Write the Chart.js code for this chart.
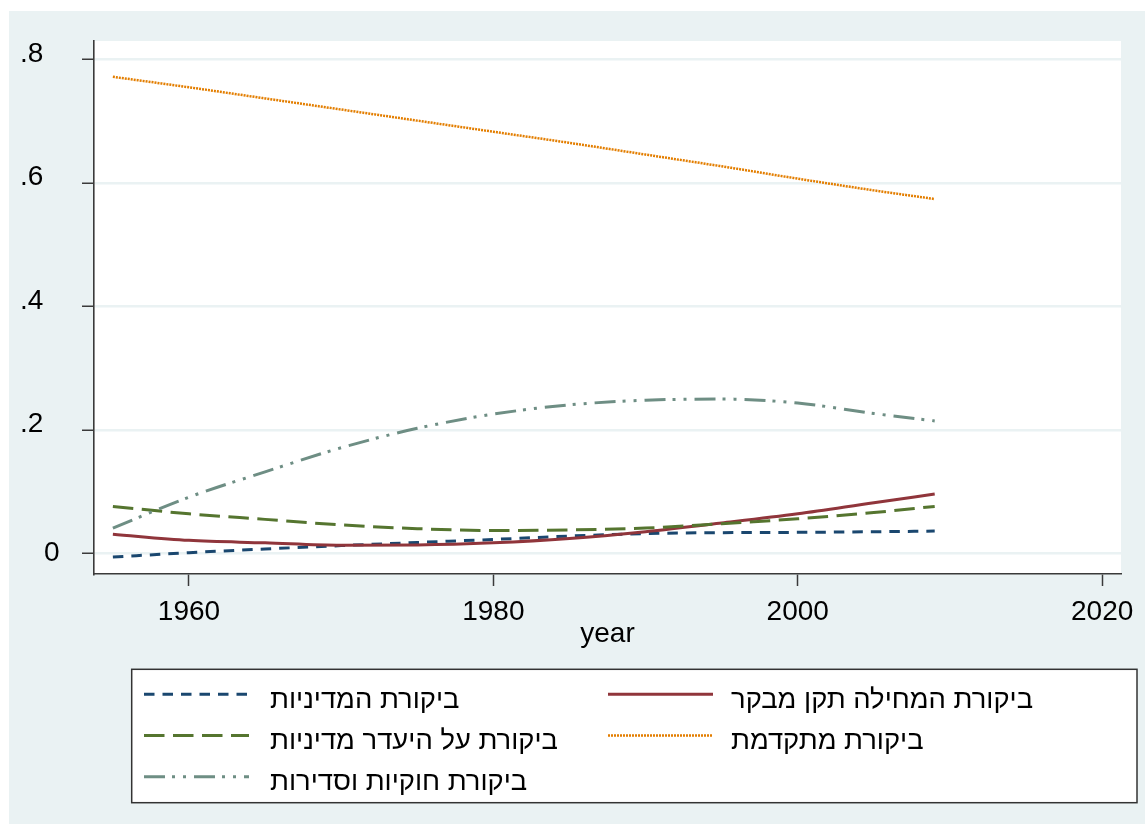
<!DOCTYPE html>
<html>
<head>
<meta charset="utf-8">
<script src="https://cdn.jsdelivr.net/npm/chart.js@4/dist/chart.umd.min.js"></script>
<style>
html, body { margin: 0; padding: 0; background: #ffffff; }
#wrap { width: 1145px; height: 835px; }
canvas { display: block; }
</style>
</head>
<body>
<div id="wrap"><canvas id="c" width="1145" height="835"></canvas></div>
<script>
// ---------- data ----------
const years = [1955, 1960, 1965, 1970, 1975, 1980, 1985, 1990, 1995, 2000, 2005, 2009];

const seriesLabels = [
  'ביקורת המדיניות',
  'ביקורת המחילה תקן מבקר',
  'ביקורת על היעדר מדיניות',
  'ביקורת מתקדמת',
  'ביקורת חוקיות וסדירות'
];

const policyReview       = [-0.006, 0.001, 0.007, 0.0125, 0.0176, 0.0225, 0.028, 0.032, 0.0335, 0.034, 0.035, 0.036];
const correctiveReview   = [0.031, 0.021, 0.017, 0.013, 0.0135, 0.017, 0.024, 0.035, 0.049, 0.064, 0.082, 0.096];
const noPolicyReview     = [0.076, 0.064, 0.055, 0.046, 0.040, 0.037, 0.038, 0.041, 0.048, 0.056, 0.066, 0.076];
const advancedReview     = [0.772, 0.755, 0.737, 0.719, 0.701, 0.683, 0.665, 0.646, 0.627, 0.607, 0.588, 0.574];
const legalityReview     = [0.041, 0.091, 0.132, 0.171, 0.2025, 0.2255, 0.2405, 0.248, 0.250, 0.2435, 0.2265, 0.2145];

const xTickValues = [1960, 1980, 2000, 2020];
const yTickValues = [0, 0.2, 0.4, 0.6, 0.8];
const yTickLabels = ['0', '.2', '.4', '.6', '.8'];
const xTitle = 'year';

// ---------- styles ----------
const FONT = '"Liberation Sans", Arial, Helvetica, sans-serif';
const FS = 28;
const LEG_FS = 27.4;
const BG = '#EAF2F3';
const AXIS = '#3a3a3a';

const styles = [
  { color: '#1A476F', dash: [10.5, 8], width: 3 },
  { color: '#90353B', dash: [], width: 3 },
  { color: '#55752F', dash: [20.5, 8.5], width: 3 },
  { color: '#E37E00', dash: [2, 1], width: 2.5 },
  { color: '#6E8E84', dash: [21, 7, 3, 8, 3, 8], width: 3 }
];
const seriesValues = [policyReview, correctiveReview, noPolicyReview, advancedReview, legalityReview];

const datasets = seriesValues.map((vals, i) => ({
  label: seriesLabels[i],
  data: years.map((y, k) => ({ x: y, y: vals[k] })),
  borderColor: styles[i].color,
  backgroundColor: styles[i].color,
  borderWidth: styles[i].width,
  borderDash: styles[i].dash,
  borderCapStyle: 'butt',
  pointRadius: 0,
  pointHoverRadius: 0,
  fill: false,
  cubicInterpolationMode: 'monotone',
  order: 5 - i
}));

// ---------- plugins ----------
const backgroundPlugin = {
  id: 'bg',
  beforeDraw(chart) {
    const { ctx, width, height, chartArea: a } = chart;
    ctx.save();
    ctx.fillStyle = '#ffffff';
    ctx.fillRect(0, 0, width, height);
    ctx.fillStyle = BG;
    ctx.fillRect(9, 11, width - 9, height - 22);
    ctx.fillStyle = '#ffffff';
    ctx.fillRect(a.left, a.top, a.right - a.left, a.bottom - a.top);
    ctx.restore();
  }
};

const yLabelPlugin = {
  id: 'ylabels',
  afterDraw(chart) {
    const { ctx } = chart;
    const sc = chart.scales.y;
    ctx.save();
    ctx.font = FS + 'px ' + FONT;
    ctx.fillStyle = '#000';
    ctx.textBaseline = 'alphabetic';
    yTickValues.forEach((v, i) => {
      const py = sc.getPixelForValue(v);
      const lab = yTickLabels[i];
      if (lab.startsWith('.')) {
        ctx.textAlign = 'right';
        ctx.fillText(lab, 43.3, py + 2.3);
      } else {
        ctx.textAlign = 'left';
        ctx.fillText(lab, 44, py + 8);
      }
    });
    ctx.restore();
  }
};

const legendPlugin = {
  id: 'stataLegend',
  afterDraw(chart) {
    const { ctx } = chart;
    const box = { l: 131.7, t: 669.3, r: 1137, b: 802.7 };
    ctx.save();
    ctx.fillStyle = '#ffffff';
    ctx.fillRect(box.l, box.t, box.r - box.l, box.b - box.t);
    ctx.strokeStyle = '#333';
    ctx.lineWidth = 1.5;
    ctx.setLineDash([]);
    ctx.strokeRect(box.l, box.t, box.r - box.l, box.b - box.t);
    const colSample = [144, 608];
    const colText = [270, 731];
    const sampleLen = 105;
    chart.data.datasets.forEach((ds, i) => {
      const col = i % 2, row = Math.floor(i / 2);
      const sy = 694.3 + row * 41.2;
      const ty = 708 + row * 41;
      ctx.beginPath();
      ctx.strokeStyle = ds.borderColor;
      ctx.lineWidth = ds.borderWidth;
      ctx.lineCap = 'butt';
      ctx.setLineDash(ds.borderDash || []);
      ctx.moveTo(colSample[col], sy);
      ctx.lineTo(colSample[col] + sampleLen, sy);
      ctx.stroke();
      ctx.setLineDash([]);
      ctx.font = LEG_FS + 'px ' + FONT;
      ctx.fillStyle = '#000';
      ctx.textAlign = 'left';
      ctx.textBaseline = 'alphabetic';
      ctx.fillText(ds.label, colText[col], ty);
    });
    ctx.restore();
  }
};

// ---------- chart ----------
new Chart(document.getElementById('c'), {
  type: 'line',
  data: { datasets },
  plugins: [backgroundPlugin, yLabelPlugin, legendPlugin],
  options: {
    responsive: false,
    animation: false,
    events: [],
    layout: { padding: { left: 0, top: 41, right: 24, bottom: 0 } },
    plugins: {
      legend: { display: false },
      tooltip: { enabled: false },
      title: { display: false }
    },
    scales: {
      x: {
        type: 'linear',
        min: 1953.76,
        max: 2021.24,
        afterFit(s) { s.height = 261; },
        afterBuildTicks(s) { s.ticks = xTickValues.map(v => ({ value: v })); },
        ticks: {
          autoSkip: false,
          maxRotation: 0,
          padding: 9,
          color: '#000',
          font: { family: FONT, size: FS },
          callback: (v) => String(v)
        },
        grid: {
          drawOnChartArea: false,
          drawTicks: true,
          tickLength: 12,
          tickColor: AXIS,
          tickWidth: 1.5
        },
        border: { display: true, color: AXIS, width: 1.6 },
        title: {
          display: true,
          text: xTitle,
          color: '#000',
          font: { family: FONT, size: FS },
          padding: { top: 0, bottom: 184 }
        }
      },
      y: {
        type: 'linear',
        min: -0.0335,
        max: 0.830,
        afterFit(s) { s.width = 94; },
        afterBuildTicks(s) { s.ticks = yTickValues.map(v => ({ value: v })); },
        ticks: { display: false },
        grid: {
          color: BG,
          lineWidth: 2.5,
          drawTicks: true,
          tickLength: 12,
          tickColor: AXIS,
          tickWidth: 1.5
        },
        border: { display: true, color: AXIS, width: 1.6 }
      }
    }
  }
});
</script>
</body>
</html>
